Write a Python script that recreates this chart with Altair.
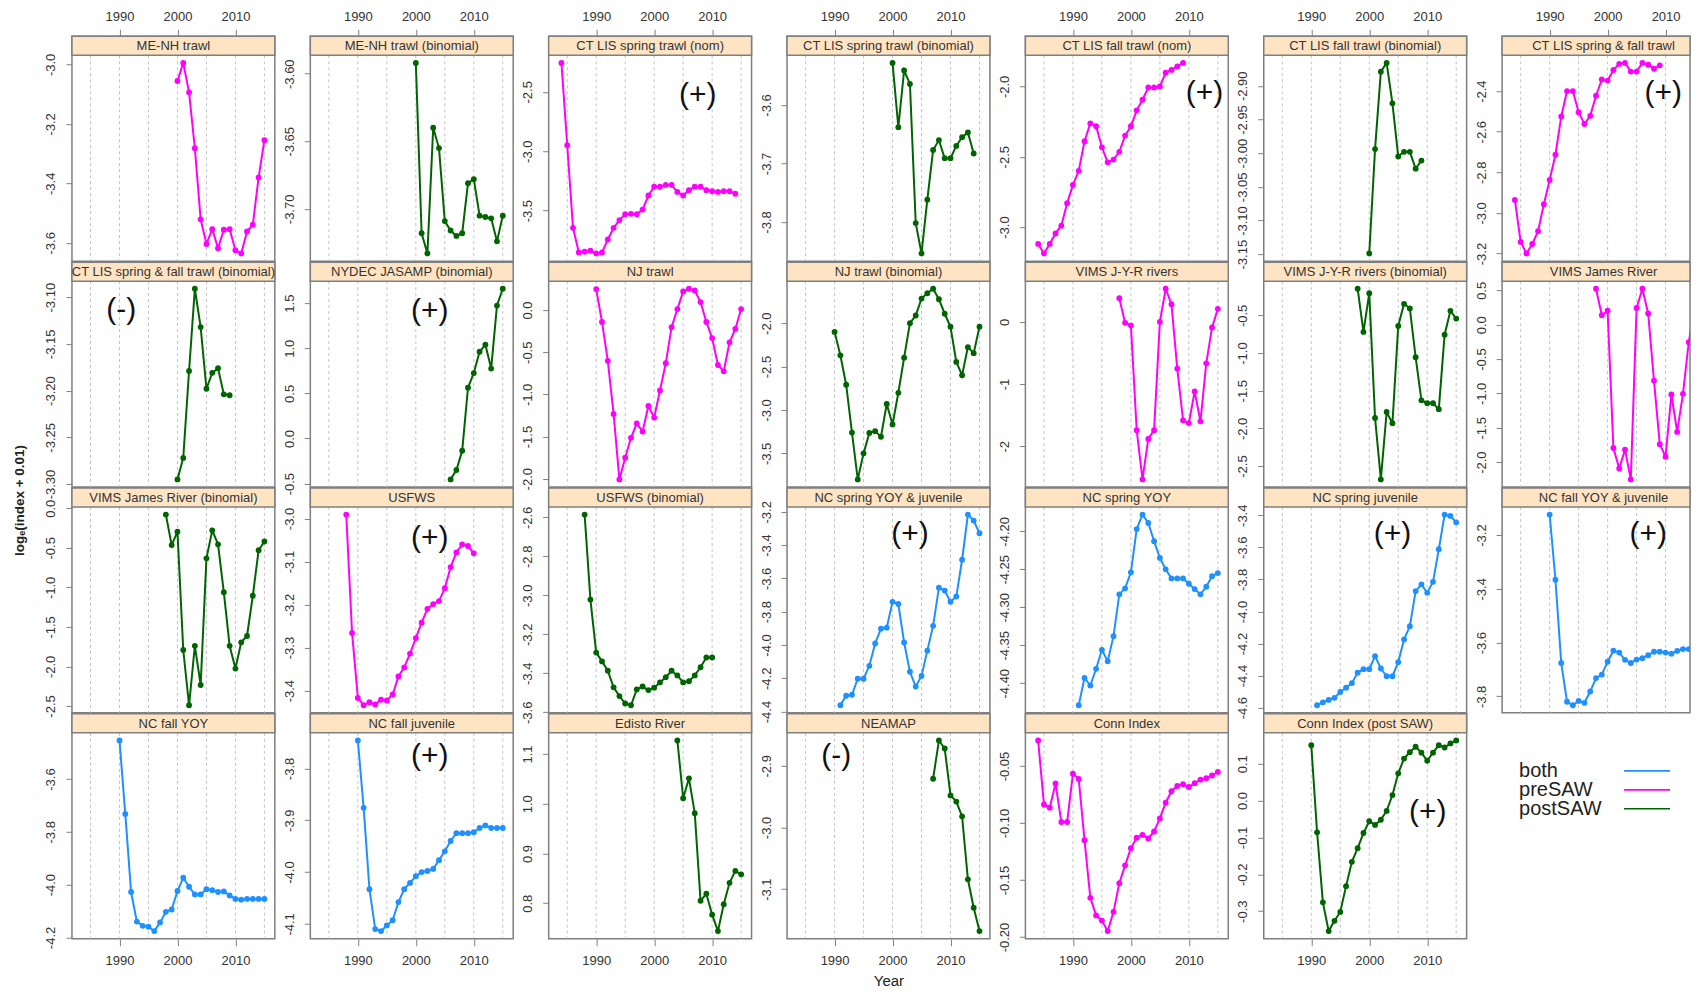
import altair as alt
import pandas as pd

# ---------------- axis / tick data ----------------
YEAR_DOMAIN = [1981.8, 2016.8]
GRID_YEARS = [1985, 1990, 1995, 2000, 2005, 2010, 2015]
X_TICKS = [1990, 2000, 2010]
Y_TITLE = "logₑ(index + 0.01)"
X_TITLE = "Year"

SERIES_TYPES = ["both", "preSAW", "postSAW"]
SERIES_COLORS = ["#1E90FF", "#FF00FF", "#006400"]

# ---------------- series values (annual, from start year) ----------------
me_nh_trawl = [-3.056, -2.995, -3.094, -3.282, -3.521, -3.604, -3.554, -3.618, -3.556, -3.554,
               -3.625, -3.636, -3.562, -3.539, -3.380, -3.255]
me_nh_trawl_bin = [-3.592, -3.718, -3.733, -3.640, -3.655, -3.709, -3.716, -3.720, -3.718, -3.681,
                   -3.678, -3.705, -3.706, -3.707, -3.724, -3.705]
ct_spring_nom = [-2.257, -2.950, -3.645, -3.852, -3.846, -3.837, -3.861, -3.852, -3.743, -3.645,
                 -3.580, -3.530, -3.527, -3.530, -3.491, -3.373, -3.299, -3.299, -3.284, -3.284,
                 -3.343, -3.373, -3.328, -3.299, -3.299, -3.328, -3.337, -3.343, -3.337, -3.337, -3.358]
ct_spring_bin = [-3.528, -3.638, -3.541, -3.564, -3.802, -3.854, -3.762, -3.677, -3.660, -3.691,
                 -3.691, -3.670, -3.655, -3.647, -3.683]
ct_fall_nom = [-3.120, -3.188, -3.120, -3.045, -2.990, -2.830, -2.700, -2.600, -2.390, -2.263,
               -2.283, -2.433, -2.540, -2.520, -2.465, -2.350, -2.283, -2.170, -2.095, -2.008,
               -2.008, -2.000, -1.903, -1.883, -1.858, -1.833]
ct_fall_bin = [-3.149, -2.994, -2.879, -2.866, -2.926, -3.005, -2.998, -2.998, -3.023, -3.011]
ct_springfall = [-2.936, -3.143, -3.200, -3.153, -3.090, -2.957, -2.838, -2.713, -2.525, -2.400,
                 -2.400, -2.504, -2.562, -2.522, -2.423, -2.343, -2.348, -2.296, -2.266, -2.261,
                 -2.304, -2.304, -2.261, -2.270, -2.290, -2.273]
ct_springfall_bin = [-3.295, -3.272, -3.179, -3.091, -3.132, -3.198, -3.181, -3.176, -3.204, -3.205]
nydec_bin = [-0.453, -0.349, -0.136, 0.562, 0.725, 0.961, 1.039, 0.775, 1.473, 1.659]
nj_trawl = [0.249, -0.141, -0.602, -1.232, -2.008, -1.751, -1.515, -1.344, -1.440, -1.137,
            -1.274, -0.954, -0.631, -0.203, 0.012, 0.220, 0.253, 0.232, 0.095, -0.141,
            -0.332, -0.651, -0.726, -0.382, -0.224, 0.012]
nj_trawl_bin = [-2.100, -2.370, -2.709, -3.261, -3.800, -3.500, -3.265, -3.244, -3.309, -2.931,
                -3.167, -2.802, -2.397, -2.000, -1.911, -1.716, -1.655, -1.603, -1.724, -1.891,
                -2.041, -2.446, -2.600, -2.276, -2.345, -2.041]
vims_jyr = [0.379, -0.017, -0.056, -1.740, -2.531, -1.881, -1.740, 0.000, 0.531, 0.282,
            -0.751, -1.582, -1.627, -1.119, -1.599, -0.667, -0.090, 0.209]
vims_jyr_bin = [-0.146, -0.719, -0.206, -1.861, -2.677, -1.782, -1.931, -0.640, -0.346, -0.407,
                -1.055, -1.628, -1.666, -1.666, -1.745, -0.756, -0.439, -0.542]
vims_james = [0.523, 0.137, 0.203, -1.794, -2.093, -1.819, -2.251, 0.244, 0.523, 0.163,
              -0.813, -1.738, -1.921, -1.016, -1.560, -1.006, -0.254, 0.244]
vims_james_bin = [-0.080, -0.465, -0.296, -1.792, -2.491, -1.739, -2.235, -0.633, -0.279, -0.456,
                  -1.062, -1.739, -2.027, -1.695, -1.615, -1.106, -0.531, -0.420]
usfws = [-2.991, -3.266, -3.417, -3.434, -3.427, -3.432, -3.421, -3.423, -3.409, -3.367,
         -3.346, -3.314, -3.278, -3.242, -3.210, -3.199, -3.192, -3.162, -3.113, -3.079,
         -3.060, -3.064, -3.081]
usfws_bin = [-2.586, -3.022, -3.294, -3.339, -3.387, -3.472, -3.517, -3.555, -3.564, -3.483,
             -3.468, -3.486, -3.474, -3.447, -3.420, -3.387, -3.411, -3.447, -3.441, -3.411,
             -3.369, -3.319, -3.319]
nc_spring_yoy_juv = [-4.362, -4.305, -4.299, -4.203, -4.203, -4.125, -3.991, -3.902, -3.896, -3.741,
                     -3.754, -3.985, -4.161, -4.250, -4.186, -4.034, -3.885, -3.656, -3.673, -3.741,
                     -3.709, -3.488, -3.217, -3.253, -3.329]
nc_spring_yoy = [-4.429, -4.393, -4.403, -4.381, -4.356, -4.371, -4.338, -4.283, -4.275, -4.254,
                 -4.197, -4.178, -4.189, -4.213, -4.235, -4.250, -4.262, -4.262, -4.262, -4.269,
                 -4.276, -4.283, -4.273, -4.259, -4.255]
nc_spring_juv = [-4.585, -4.567, -4.552, -4.539, -4.502, -4.476, -4.447, -4.382, -4.360, -4.360,
                 -4.279, -4.356, -4.404, -4.404, -4.316, -4.175, -4.092, -3.873, -3.831, -3.884,
                 -3.815, -3.612, -3.396, -3.404, -3.444]
nc_fall_yoy_juv = [-3.124, -3.366, -3.676, -3.820, -3.833, -3.817, -3.824, -3.782, -3.732, -3.719,
                   -3.671, -3.630, -3.637, -3.664, -3.676, -3.663, -3.658, -3.647, -3.634, -3.634,
                   -3.637, -3.641, -3.631, -3.624, -3.624, -3.624]
nc_fall_yoy = [-3.454, -3.732, -4.028, -4.140, -4.156, -4.159, -4.176, -4.143, -4.103, -4.094,
               -4.024, -3.974, -4.008, -4.037, -4.037, -4.017, -4.021, -4.028, -4.026, -4.041,
               -4.054, -4.057, -4.054, -4.054, -4.054, -4.054]
nc_fall_juv = [-3.746, -3.876, -4.033, -4.110, -4.114, -4.103, -4.093, -4.058, -4.033, -4.021,
               -4.008, -4.000, -3.998, -3.994, -3.977, -3.960, -3.940, -3.925, -3.925, -3.925,
               -3.923, -3.915, -3.910, -3.915, -3.915, -3.915]
edisto = [1.127, 1.011, 1.051, 0.981, 0.805, 0.819, 0.777, 0.744, 0.798, 0.841, 0.865, 0.858]
neamap = [-2.921, -2.859, -2.872, -2.948, -2.958, -2.982, -3.084, -3.130, -3.168]
conn_index = [-0.0276, -0.0837, -0.0865, -0.0653, -0.0991, -0.0991, -0.0567, -0.0613, -0.1150, -0.1656,
              -0.1810, -0.1856, -0.1948, -0.1779, -0.1528, -0.1371, -0.1221, -0.1129, -0.1104, -0.1135,
              -0.1074, -0.0960, -0.0822, -0.0721, -0.0675, -0.0660, -0.0684, -0.0650, -0.0620, -0.0607,
              -0.0583, -0.0552]
conn_index_post = [0.150, -0.086, -0.276, -0.354, -0.326, -0.302, -0.232, -0.166, -0.129, -0.088,
                   -0.056, -0.066, -0.052, -0.028, 0.015, 0.074, 0.114, 0.131, 0.146, 0.130,
                   0.108, 0.130, 0.150, 0.144, 0.155, 0.163]

panel_titles = [
    "ME-NH trawl", "ME-NH trawl (binomial)", "CT LIS spring trawl (nom)", "CT LIS spring trawl (binomial)",
    "CT LIS fall trawl (nom)", "CT LIS fall trawl (binomial)", "CT LIS spring & fall trawl",
    "CT LIS spring & fall trawl (binomial)", "NYDEC JASAMP (binomial)", "NJ trawl", "NJ trawl (binomial)",
    "VIMS J-Y-R rivers", "VIMS J-Y-R rivers (binomial)", "VIMS James River",
    "VIMS James River (binomial)", "USFWS", "USFWS (binomial)", "NC spring YOY & juvenile",
    "NC spring YOY", "NC spring juvenile", "NC fall YOY & juvenile",
    "NC fall YOY", "NC fall juvenile", "Edisto River", "NEAMAP", "Conn Index", "Conn Index (post SAW)",
]
panel_kinds = [
    "preSAW", "postSAW", "preSAW", "postSAW", "preSAW", "postSAW", "preSAW",
    "postSAW", "postSAW", "preSAW", "postSAW", "preSAW", "postSAW", "preSAW",
    "postSAW", "preSAW", "postSAW", "both", "both", "both", "both",
    "both", "both", "postSAW", "postSAW", "preSAW", "postSAW",
]
panel_starts = [
    2000, 2000, 1984, 2000, 1984, 2000, 1984,
    2000, 2006, 1990, 1990, 1998, 1998, 1998,
    1998, 1988, 1988, 1991, 1991, 1991, 1990,
    1990, 1990, 2004, 2007, 1984, 1990,
]
panel_values = [
    me_nh_trawl, me_nh_trawl_bin, ct_spring_nom, ct_spring_bin, ct_fall_nom, ct_fall_bin, ct_springfall,
    ct_springfall_bin, nydec_bin, nj_trawl, nj_trawl_bin, vims_jyr, vims_jyr_bin, vims_james,
    vims_james_bin, usfws, usfws_bin, nc_spring_yoy_juv, nc_spring_yoy, nc_spring_juv, nc_fall_yoy_juv,
    nc_fall_yoy, nc_fall_juv, edisto, neamap, conn_index, conn_index_post,
]
panel_yticks = [
    [-3.6, -3.4, -3.2, -3.0], [-3.70, -3.65, -3.60], [-3.5, -3.0, -2.5], [-3.8, -3.7, -3.6],
    [-3.0, -2.5, -2.0], [-3.15, -3.10, -3.05, -3.00, -2.95, -2.90], [-3.2, -3.0, -2.8, -2.6, -2.4],
    [-3.30, -3.25, -3.20, -3.15, -3.10], [-0.5, 0.0, 0.5, 1.0, 1.5], [-2.0, -1.5, -1.0, -0.5, 0.0],
    [-3.5, -3.0, -2.5, -2.0], [-2, -1, 0], [-2.5, -2.0, -1.5, -1.0, -0.5],
    [-2.0, -1.5, -1.0, -0.5, 0.0, 0.5],
    [-2.5, -2.0, -1.5, -1.0, -0.5, 0.0], [-3.4, -3.3, -3.2, -3.1, -3.0], [-3.6, -3.4, -3.2, -3.0, -2.8, -2.6],
    [-4.4, -4.2, -4.0, -3.8, -3.6, -3.4, -3.2], [-4.40, -4.35, -4.30, -4.25, -4.20],
    [-4.6, -4.4, -4.2, -4.0, -3.8, -3.6, -3.4], [-3.8, -3.6, -3.4, -3.2],
    [-4.2, -4.0, -3.8, -3.6], [-4.1, -4.0, -3.9, -3.8], [0.8, 0.9, 1.0, 1.1], [-3.1, -3.0, -2.9],
    [-0.20, -0.15, -0.10, -0.05], [-0.3, -0.2, -0.1, 0.0, 0.1],
]
panel_yfmt = [
    ".1f", ".2f", ".1f", ".1f", ".1f", ".2f", ".1f",
    ".2f", ".1f", ".1f", ".1f", ".0f", ".1f", ".1f",
    ".1f", ".1f", ".1f", ".1f", ".2f", ".1f", ".1f",
    ".1f", ".1f", ".1f", ".1f", ".2f", ".1f",
]

# trend annotations (panel index, text, year, value)
ann_panel = [2, 4, 6, 7, 8, 15, 17, 19, 20, 22, 24, 26]
ann_text = ["(+)", "(+)", "(+)", "(-)", "(+)", "(+)", "(+)", "(+)", "(+)", "(+)", "(-)", "(+)"]
ann_year = [2007.5, 2012.7, 2009.6, 1990.3, 2002.4, 2002.4, 2003.0, 2004.0, 2007.0, 2002.4, 1990.3, 2010.1]
ann_value = [-2.53, -2.045, -2.409, -3.114, 1.415, -3.045, -3.334, -3.52, -3.196, -3.776, -2.884, -0.030]

# ---------------- layout ----------------
PW = 203       # panel width
PW_LAST = 188  # last column (cut at the page edge)
PH = 225       # strip + plot height
STRIP = 19     # strip height
FONT = "Liberation Sans"

color_enc = alt.Color("kind:N", scale=alt.Scale(domain=SERIES_TYPES, range=SERIES_COLORS), legend=None)


def make_panel(i):
    vals = panel_values[i]
    start = panel_starts[i]
    kind = panel_kinds[i]
    df = pd.DataFrame({
        "year": [start + k for k in range(len(vals))],
        "value": vals,
        "kind": [kind] * len(vals),
    })
    lo, hi = min(vals), max(vals)
    pad = 0.04 * (hi - lo)
    row, col = divmod(i, 7)
    pw = PW_LAST if col == 6 else PW
    span = YEAR_DOMAIN[1] - YEAR_DOMAIN[0]
    xdom = [YEAR_DOMAIN[0], YEAR_DOMAIN[0] + span * pw / PW]
    fmt = panel_yfmt[i]

    ykw = dict(values=panel_yticks[i],
               labelExpr="replace(format(datum.value, '" + fmt + "'), '\u2212', '-')",
               labelAngle=270, labelAlign="center", labelBaseline="bottom",
               labelPadding=8, tickSize=6, labelFontSize=13, labelOverlap=False,
               labelFlush=False, title=None)
    if i == 14:
        ykw.update(title=Y_TITLE, titleX=-52, titleY=12, titleAngle=270, titleAlign="center",
                   titleBaseline="middle", titleFontSize=13.5, titleFontWeight="bold",
                   titleColor="#222222")
    yaxis = alt.Axis(**ykw)

    if row == 0:
        xaxis = alt.Axis(orient="top", values=X_TICKS, format="d", tickSize=7, labelPadding=6,
                         labelFontSize=13, labelFlush=False, labelOverlap=False, title=None)
    elif row == 3:
        xkw = dict(orient="bottom", values=X_TICKS, format="d", tickSize=7, labelPadding=9,
                   labelFontSize=13, labelFlush=False, labelOverlap=False, title=None)
        if i == 24:
            xkw.update(title=X_TITLE, titleY=42, titleBaseline="middle", titleFontSize=15,
                       titleFontWeight="normal", titleColor="#222222")
        xaxis = alt.Axis(**xkw)
    else:
        xaxis = None

    xenc = alt.X("year:Q", scale=alt.Scale(domain=xdom, nice=False, zero=False), axis=xaxis)
    yenc = alt.Y("value:Q", scale=alt.Scale(domain=[lo - pad, hi + pad], range=[PH, STRIP],
                                            nice=False, zero=False), axis=yaxis)

    grid = alt.Chart(pd.DataFrame({"year": GRID_YEARS})).mark_rule(
        color="#c4c4c4", strokeDash=[3, 3], strokeWidth=1, clip=True
    ).encode(x=xenc, y=alt.value(STRIP), y2=alt.value(PH))

    strip_df = pd.DataFrame({"title": [panel_titles[i]]})
    strip = alt.Chart(strip_df).mark_rect(fill="#FFE4C4", stroke="#7f7f7f", strokeWidth=1.5).encode(
        x=alt.value(0), x2=alt.value(pw), y=alt.value(0), y2=alt.value(STRIP))
    strip_text = alt.Chart(strip_df).mark_text(
        fontSize=13, font=FONT, color="#333333", align="center", baseline="middle"
    ).encode(x=alt.value(PW / 2), y=alt.value(STRIP / 2 + 0.5), text="title:N")

    line = alt.Chart(df).mark_line(strokeWidth=2, clip=True).encode(x=xenc, y=yenc, color=color_enc)
    pts = alt.Chart(df).mark_point(filled=True, shape="circle", size=34, opacity=1, clip=True).encode(
        x=xenc, y=yenc, color=color_enc)

    layers = [grid, strip, strip_text, line, pts]

    idx = [k for k, p in enumerate(ann_panel) if p == i]
    if idx:
        adf = pd.DataFrame({
            "year": [ann_year[k] for k in idx],
            "value": [ann_value[k] for k in idx],
            "label": [ann_text[k] for k in idx],
        })
        ann = alt.Chart(adf).mark_text(fontSize=30, font=FONT, color="#111111",
                                       align="center", baseline="middle", clip=True).encode(
            x=xenc, y=yenc, text="label:N")
        layers.append(ann)

    return alt.layer(*layers).properties(width=pw, height=PH)


charts = [make_panel(i) for i in range(len(panel_titles))]

# legend panel (bottom right)
leg_df = pd.DataFrame({"label": SERIES_TYPES, "kind": SERIES_TYPES})
leg_y = alt.Y("label:N", scale=alt.Scale(type="point", domain=SERIES_TYPES, range=[57, 95], padding=0),
              axis=None)
leg_text = alt.Chart(leg_df).mark_text(align="left", baseline="middle", fontSize=20, font=FONT,
                                       color="#222222").encode(x=alt.value(17), y=leg_y, text="label:N")
leg_rule = alt.Chart(leg_df).mark_rule(strokeWidth=1.6).encode(
    x=alt.value(122), x2=alt.value(168), y=leg_y, color=color_enc)
legend_chart = alt.layer(leg_text, leg_rule).properties(
    width=PW_LAST, height=PH, view=alt.ViewBackground(stroke="transparent"))
charts.append(legend_chart)

chart = alt.concat(
    *charts, columns=7, spacing={"row": 1, "column": 35.5}, bounds="flush"
).resolve_scale(
    x="independent", y="independent"
).properties(
    padding={"left": 4, "top": 1, "right": 0, "bottom": 0}
).configure_view(
    stroke="#7f7f7f", strokeWidth=1.5
).configure_axis(
    labelFont=FONT, titleFont=FONT, labelColor="#333333", tickColor="#7f7f7f", tickWidth=1,
    domain=False, grid=False
)

chart.save("out.html", embed_options={"renderer": "svg", "actions": False})
